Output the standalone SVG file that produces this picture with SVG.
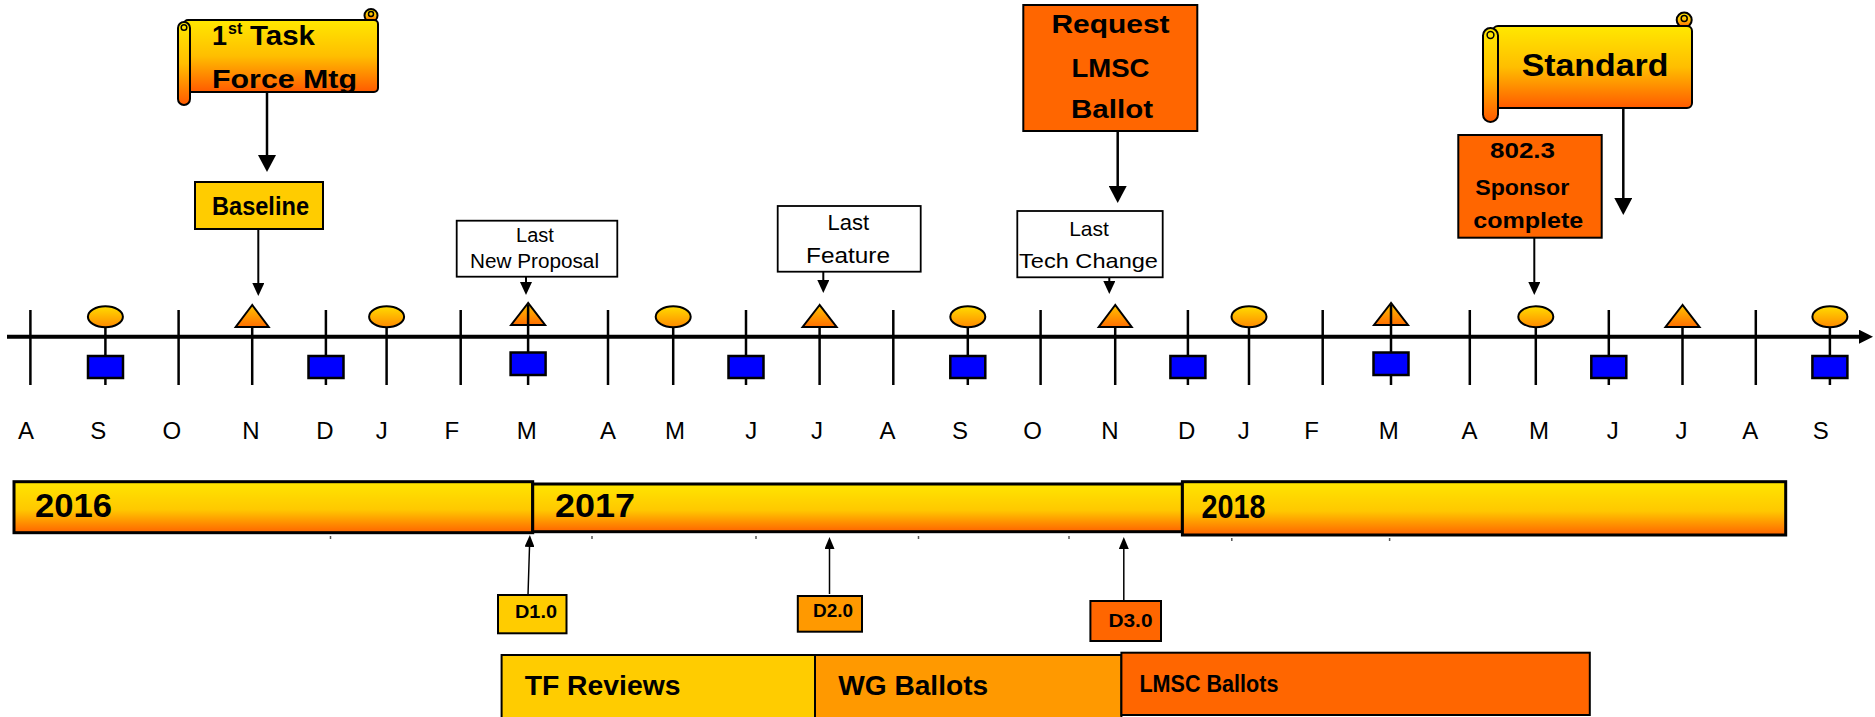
<svg xmlns="http://www.w3.org/2000/svg" width="1875" height="717" viewBox="0 0 1875 717">
<style>
text{font-family:"Liberation Sans",Arial,sans-serif;fill:#000}
.b{font-weight:bold}
.mon{font-size:24px;text-anchor:middle}
.tick{stroke:#000;stroke-width:2.5}
.stem{stroke:#000;stroke-width:2.5}
.sq{fill:#0000FF;stroke:#000;stroke-width:2.5}
.circ{fill:url(#gCirc);stroke:#000;stroke-width:2}
.tri{fill:url(#gTri);stroke:#000;stroke-width:2;stroke-linejoin:miter}
.box{stroke:#000;stroke-width:2}
.wbox{fill:#fff;stroke:#000;stroke-width:1.8}
.year{fill:url(#gYear);stroke:#000;stroke-width:3}
.scroll{fill:url(#gScroll);stroke:#000;stroke-width:2}
.arrB{stroke:#000;stroke-width:2.5;fill:none;marker-end:url(#ahBig)}
.arrM{stroke:#000;stroke-width:2;fill:none;marker-end:url(#ahMed)}
.arrS{stroke:#000;stroke-width:1.5;fill:none;marker-end:url(#ahSm)}
.dot{stroke:#555;stroke-width:1.5}
.ctr{text-anchor:middle}
</style>
<defs>
<linearGradient id="gScroll" x1="0" y1="0" x2="0" y2="1">
<stop offset="0" stop-color="#FFE800"/><stop offset="0.5" stop-color="#FFBE00"/><stop offset="1" stop-color="#FF5A00"/>
</linearGradient>
<linearGradient id="gYear" x1="0" y1="0" x2="0" y2="1">
<stop offset="0" stop-color="#FFE600"/><stop offset="0.55" stop-color="#FFC800"/><stop offset="1" stop-color="#FF6400"/>
</linearGradient>
<linearGradient id="gCirc" x1="0" y1="0" x2="0" y2="1">
<stop offset="0" stop-color="#FFDC00"/><stop offset="1" stop-color="#FF8A00"/>
</linearGradient>
<linearGradient id="gTri" x1="0" y1="0" x2="0" y2="1">
<stop offset="0" stop-color="#FFC400"/><stop offset="1" stop-color="#FF6E00"/>
</linearGradient>
<marker id="ahBig" markerUnits="userSpaceOnUse" markerWidth="18" markerHeight="18" refX="0" refY="9" orient="auto"><path d="M0,0 L17,9 L0,18 z" fill="#000"/></marker>
<marker id="ahMed" markerUnits="userSpaceOnUse" markerWidth="14" markerHeight="12" refX="0" refY="6" orient="auto"><path d="M0,0 L13,6 L0,12 z" fill="#000"/></marker>
<marker id="ahSm" markerUnits="userSpaceOnUse" markerWidth="13" markerHeight="10" refX="0" refY="5" orient="auto"><path d="M0,0 L12,5 L0,10 z" fill="#000"/></marker>
<marker id="ahAxis" markerUnits="userSpaceOnUse" markerWidth="15" markerHeight="14" refX="0" refY="7" orient="auto"><path d="M0,0 L14,7 L0,14 z" fill="#000"/></marker>
</defs>

<g id="timeline">
<g id="ticks">
<line class="tick" x1="30.4" y1="310" x2="30.4" y2="385"/>
<line class="tick" x1="178.6" y1="310" x2="178.6" y2="385"/>
<line class="tick" x1="325.9" y1="310" x2="325.9" y2="385"/>
<line class="tick" x1="460.7" y1="310" x2="460.7" y2="385"/>
<line class="tick" x1="608" y1="310" x2="608" y2="385"/>
<line class="tick" x1="746" y1="310" x2="746" y2="385"/>
<line class="tick" x1="893.3" y1="310" x2="893.3" y2="385"/>
<line class="tick" x1="1040.6" y1="310" x2="1040.6" y2="385"/>
<line class="tick" x1="1187.9" y1="310" x2="1187.9" y2="385"/>
<line class="tick" x1="1322.7" y1="310" x2="1322.7" y2="385"/>
<line class="tick" x1="1469.8" y1="310" x2="1469.8" y2="385"/>
<line class="tick" x1="1608.8" y1="310" x2="1608.8" y2="385"/>
<line class="tick" x1="1755.8" y1="310" x2="1755.8" y2="385"/>
</g>
<g id="stems">
<line class="stem" x1="105.4" y1="318" x2="105.4" y2="385"/>
<line class="stem" x1="252.2" y1="318" x2="252.2" y2="385"/>
<line class="stem" x1="386.6" y1="318" x2="386.6" y2="385"/>
<line class="stem" x1="528.1" y1="318" x2="528.1" y2="385"/>
<line class="stem" x1="673.2" y1="318" x2="673.2" y2="385"/>
<line class="stem" x1="819.6" y1="318" x2="819.6" y2="385"/>
<line class="stem" x1="967.8" y1="318" x2="967.8" y2="385"/>
<line class="stem" x1="1115.2" y1="318" x2="1115.2" y2="385"/>
<line class="stem" x1="1249" y1="318" x2="1249" y2="385"/>
<line class="stem" x1="1391" y1="318" x2="1391" y2="385"/>
<line class="stem" x1="1535.8" y1="318" x2="1535.8" y2="385"/>
<line class="stem" x1="1682.5" y1="318" x2="1682.5" y2="385"/>
<line class="stem" x1="1829.9" y1="318" x2="1829.9" y2="385"/>
</g>
<line id="axis" x1="7" y1="336.7" x2="1859" y2="336.7" stroke="#000" stroke-width="4" marker-end="url(#ahAxis)"/>
<g id="circles">
<ellipse class="circ" cx="105.4" cy="316.7" rx="17.5" ry="10.5"/>
<ellipse class="circ" cx="386.6" cy="316.7" rx="17.5" ry="10.5"/>
<ellipse class="circ" cx="673.2" cy="316.7" rx="17.5" ry="10.5"/>
<ellipse class="circ" cx="967.8" cy="316.7" rx="17.5" ry="10.5"/>
<ellipse class="circ" cx="1249" cy="316.7" rx="17.5" ry="10.5"/>
<ellipse class="circ" cx="1535.8" cy="316.7" rx="17.5" ry="10.5"/>
<ellipse class="circ" cx="1829.9" cy="316.7" rx="17.5" ry="10.5"/>
</g>
<g id="triangles">
<polygon class="tri" points="252.2,305 235.7,327 268.7,327"/>
<polygon class="tri" points="528.1,303 511.1,325 545.1,325"/>
<polygon class="tri" points="819.6,305 802.6,327 836.6,327"/>
<polygon class="tri" points="1115.2,305 1098.7,327 1131.7,327"/>
<polygon class="tri" points="1391,303 1374,325 1408,325"/>
<polygon class="tri" points="1682.5,305 1665.5,327 1699.5,327"/>
<line class="stem" x1="528.1" y1="305" x2="528.1" y2="325"/>
<line class="stem" x1="1391" y1="305" x2="1391" y2="325"/>
</g>
<g id="squares">
<rect class="sq" x="88" y="356" width="35" height="22"/>
<rect class="sq" x="308.5" y="356" width="35" height="22"/>
<rect class="sq" x="510.6" y="352.5" width="35" height="22.5"/>
<rect class="sq" x="728.5" y="356" width="35" height="22"/>
<rect class="sq" x="950.3" y="356" width="35" height="22"/>
<rect class="sq" x="1170.4" y="356" width="35" height="22"/>
<rect class="sq" x="1373.5" y="352.5" width="35" height="22.5"/>
<rect class="sq" x="1591.3" y="356" width="35" height="22"/>
<rect class="sq" x="1812.4" y="356" width="35" height="22"/>
</g>
<g id="months">
<text class="mon" x="25.9" y="439">A</text>
<text class="mon" x="98.2" y="439">S</text>
<text class="mon" x="171.9" y="439">O</text>
<text class="mon" x="250.9" y="439">N</text>
<text class="mon" x="325" y="439">D</text>
<text class="mon" x="381.7" y="439">J</text>
<text class="mon" x="451.8" y="439">F</text>
<text class="mon" x="526.8" y="439">M</text>
<text class="mon" x="608" y="439">A</text>
<text class="mon" x="675" y="439">M</text>
<text class="mon" x="751.3" y="439">J</text>
<text class="mon" x="817" y="439">J</text>
<text class="mon" x="887.5" y="439">A</text>
<text class="mon" x="960" y="439">S</text>
<text class="mon" x="1032.6" y="439">O</text>
<text class="mon" x="1109.8" y="439">N</text>
<text class="mon" x="1186.6" y="439">D</text>
<text class="mon" x="1243.7" y="439">J</text>
<text class="mon" x="1311.6" y="439">F</text>
<text class="mon" x="1388.7" y="439">M</text>
<text class="mon" x="1469.4" y="439">A</text>
<text class="mon" x="1539" y="439">M</text>
<text class="mon" x="1612.8" y="439">J</text>
<text class="mon" x="1681.4" y="439">J</text>
<text class="mon" x="1750.3" y="439">A</text>
<text class="mon" x="1820.7" y="439">S</text>
</g>
</g>

<g id="connectors">
<path class="arrB" d="M267,92 V155"/>
<path class="arrM" d="M258.3,229 V283"/>
<path class="arrM" d="M526,270 V282"/>
<path class="arrM" d="M823.3,263 V280"/>
<path class="arrB" d="M1117.7,131 V186"/>
<path class="arrM" d="M1109.3,267 V281"/>
<path class="arrB" d="M1623.3,108 V198"/>
<path class="arrM" d="M1534.3,238 V282"/>
<path class="arrS" d="M528,595 L529.5,547"/>
<path class="arrS" d="M829.5,594 V549"/>
<path class="arrS" d="M1123.8,600 V549"/>
</g>

<g id="task-force-mtg">
<circle class="scroll" cx="371" cy="15.5" r="6.5"/>
<rect class="scroll" x="184" y="20" width="194" height="72" rx="4"/>
<rect class="scroll" x="178" y="22" width="12" height="83" rx="6"/>
<circle cx="184" cy="27.5" r="2.8" fill="none" stroke="#000" stroke-width="1.5"/>
<circle cx="371" cy="14" r="2.5" fill="none" stroke="#000" stroke-width="1.5"/>
<text class="b" x="212" y="45" font-size="27">1</text>
<text class="b" x="228" y="34" font-size="16">st</text>
<text class="b" x="250" y="45" font-size="27" textLength="65" lengthAdjust="spacingAndGlyphs">Task</text>
<text class="b" x="212" y="88" font-size="26" textLength="145" lengthAdjust="spacingAndGlyphs">Force Mtg</text>
</g>

<g id="baseline">
<rect class="box" x="195" y="182" width="128" height="47" fill="#FFCC00"/>
<text class="b" x="212" y="215" font-size="25" textLength="97" lengthAdjust="spacingAndGlyphs">Baseline</text>
</g>

<g id="last-new-proposal">
<rect class="wbox" x="456.7" y="220.7" width="160.6" height="56"/>
<text class="ctr" x="535" y="241.7" font-size="20">Last</text>
<text x="470" y="268.3" font-size="20" textLength="129" lengthAdjust="spacingAndGlyphs">New Proposal</text>
</g>

<g id="last-feature">
<rect class="wbox" x="777.7" y="206" width="143" height="65.7" stroke-width="2.5"/>
<text class="ctr" x="848.3" y="230" font-size="22">Last</text>
<text x="806" y="263.3" font-size="22" textLength="84" lengthAdjust="spacingAndGlyphs">Feature</text>
</g>

<g id="request-lmsc-ballot">
<rect class="box" x="1023.3" y="5" width="174" height="126" fill="#FF6600"/>
<text class="b ctr" x="1110.5" y="33.3" font-size="26" textLength="118" lengthAdjust="spacingAndGlyphs">Request</text>
<text class="b ctr" x="1110.5" y="76.7" font-size="26" textLength="78" lengthAdjust="spacingAndGlyphs">LMSC</text>
<text class="b ctr" x="1112" y="118.3" font-size="26" textLength="82" lengthAdjust="spacingAndGlyphs">Ballot</text>
</g>

<g id="last-tech-change">
<rect class="wbox" x="1017.3" y="211" width="145.4" height="66.3" stroke-width="1.5"/>
<text class="ctr" x="1089" y="236" font-size="21">Last</text>
<text x="1019" y="268.3" font-size="21" textLength="139" lengthAdjust="spacingAndGlyphs">Tech Change</text>
</g>

<g id="standard">
<circle class="scroll" cx="1684.2" cy="20" r="7.5"/>
<rect class="scroll" x="1493" y="26" width="199" height="82" rx="5"/>
<rect class="scroll" x="1483" y="28" width="15" height="94" rx="7.5"/>
<circle cx="1490.5" cy="35" r="3.4" fill="none" stroke="#000" stroke-width="1.5"/>
<circle cx="1684.2" cy="18.5" r="3" fill="none" stroke="#000" stroke-width="1.5"/>
<text class="b" x="1521.7" y="76" font-size="31" textLength="146.7" lengthAdjust="spacingAndGlyphs">Standard</text>
</g>

<g id="sponsor-complete">
<rect class="box" x="1458.3" y="135" width="143.4" height="102.7" fill="#FF6600" stroke-width="2.5"/>
<text class="b ctr" x="1522.5" y="158.3" font-size="22" textLength="65" lengthAdjust="spacingAndGlyphs">802.3</text>
<text class="b ctr" x="1522.2" y="195" font-size="22" textLength="94" lengthAdjust="spacingAndGlyphs">Sponsor</text>
<text class="b ctr" x="1528.3" y="228.3" font-size="22" textLength="110" lengthAdjust="spacingAndGlyphs">complete</text>
</g>

<g id="year-2016">
<rect class="year" x="14" y="481.7" width="518.7" height="51"/>
<text class="b" x="35" y="517" font-size="34" textLength="77" lengthAdjust="spacingAndGlyphs">2016</text>
</g>
<g id="year-2017">
<rect class="year" x="532.7" y="484" width="649.7" height="47.7"/>
<text class="b" x="555" y="517" font-size="34" textLength="80" lengthAdjust="spacingAndGlyphs">2017</text>
</g>
<g id="year-2018">
<rect class="year" x="1182.4" y="481.7" width="603.3" height="53.3"/>
<text class="b" x="1201.4" y="518" font-size="34" textLength="64" lengthAdjust="spacingAndGlyphs">2018</text>
</g>
<g id="minor-ticks">
<line class="dot" x1="330.5" y1="536" x2="330.5" y2="539"/>
<line class="dot" x1="592" y1="536" x2="592" y2="539"/>
<line class="dot" x1="756" y1="536" x2="756" y2="539"/>
<line class="dot" x1="918.5" y1="536" x2="918.5" y2="539"/>
<line class="dot" x1="1069" y1="536" x2="1069" y2="539"/>
<line class="dot" x1="1231.8" y1="538" x2="1231.8" y2="541"/>
<line class="dot" x1="1389.6" y1="538" x2="1389.6" y2="541"/>
</g>

<g id="d1">
<rect class="box" x="498" y="595" width="68.5" height="38.3" fill="#FFCC00"/>
<text class="b ctr" x="536" y="618.3" font-size="18" textLength="42" lengthAdjust="spacingAndGlyphs">D1.0</text>
</g>
<g id="d2">
<rect class="box" x="797.8" y="596" width="64.2" height="35.7" fill="#FF9900"/>
<text class="b ctr" x="833" y="617.3" font-size="18" textLength="40" lengthAdjust="spacingAndGlyphs">D2.0</text>
</g>
<g id="d3">
<rect class="box" x="1090.4" y="601" width="70.6" height="40" fill="#FF6600"/>
<text class="b ctr" x="1130.5" y="627.3" font-size="18" textLength="44" lengthAdjust="spacingAndGlyphs">D3.0</text>
</g>

<g id="tf-reviews">
<rect class="box" x="501.6" y="655" width="313.4" height="63" fill="#FFCC00"/>
<text class="b" x="524.7" y="695" font-size="28" textLength="155.7" lengthAdjust="spacingAndGlyphs">TF Reviews</text>
</g>
<g id="wg-ballots">
<rect class="box" x="815" y="655" width="306.4" height="63" fill="#FF9900"/>
<text class="b" x="838.2" y="695" font-size="28" textLength="150" lengthAdjust="spacingAndGlyphs">WG Ballots</text>
</g>
<g id="lmsc-ballots">
<rect class="box" x="1121.4" y="652.7" width="468.4" height="62.3" fill="#FF6600" stroke-width="3"/>
<text class="b" x="1139.4" y="691.7" font-size="24" textLength="139" lengthAdjust="spacingAndGlyphs">LMSC Ballots</text>
</g>
</svg>
